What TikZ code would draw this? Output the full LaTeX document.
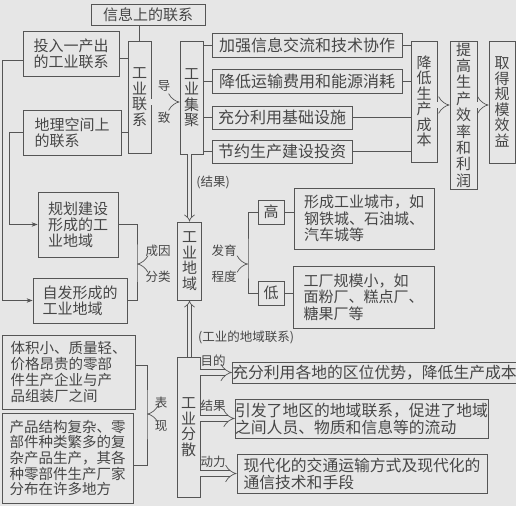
\documentclass[tikz,border=0pt]{standalone}
\usepackage{fontspec}
\newfontfamily\cjk{Noto Sans CJK SC}
\usetikzlibrary{arrows.meta}
\definecolor{bg}{RGB}{230,230,230}
\definecolor{ln}{RGB}{85,85,85}
\definecolor{tx}{RGB}{70,70,70}
\begin{document}
\begin{tikzpicture}[x=1pt,y=-1pt,
  every node/.style={text=tx, font=\cjk\fontsize{15}{16}\selectfont},
  box/.style={draw=ln, line width=0.8pt, inner sep=0pt, align=left},
  vbox/.style={draw=ln, line width=0.8pt, inner sep=0pt, align=center, font=\cjk\fontsize{15}{15.5}\selectfont},
  lab/.style={font=\cjk\fontsize{12.5}{13}\selectfont, inner sep=0pt},
  conn/.style={draw=ln, line width=0.8pt},
  arr/.style={conn, -{Stealth[length=6pt,width=4.5pt]}},
  dblh/.style={draw=ln, line width=0.7pt, double=bg, double distance=5.5pt, -{Implies[scale=1.4]}},
  dblv/.style={draw=ln, line width=0.7pt, double=bg, double distance=3pt, -{Implies[scale=1.4]}},
]
\fill[bg] (0,0) rectangle (516,506);
\useasboundingbox (0,0) rectangle (516,506);

% top row
\node[box, align=center, minimum width=114pt, minimum height=21pt] (info) at (148,14.5) {信息上的联系};
\node[box, minimum width=96pt, minimum height=45pt] (touru) at (71,53.5) {投入一产出\\的工业联系};
\node[box, minimum width=98pt, minimum height=45pt] (dili) at (72,132.5) {地理空间上\\的联系};
\node[vbox, minimum width=23pt, minimum height=112pt] (gylx) at (139.5,97) {工\\业\\联\\系};
\node[vbox, minimum width=23pt, minimum height=113pt] (gyjj) at (191.5,97.5) {工\\业\\集\\聚};

\node[box, align=center, minimum width=190pt, minimum height=24pt, font=\cjk\fontsize{16}{17}\selectfont] (jq) at (307,45) {加强信息交流和技术协作};
\node[box, align=center, minimum width=190pt, minimum height=24pt, font=\cjk\fontsize{16}{17}\selectfont] (jd) at (307,81) {降低运输费用和能源消耗};
\node[box, align=center, minimum width=140pt, minimum height=23pt, font=\cjk\fontsize{16}{17}\selectfont] (cf) at (282,117.5) {充分利用基础设施};
\node[box, align=center, minimum width=140pt, minimum height=23pt, font=\cjk\fontsize{16}{17}\selectfont] (jy) at (282,151.5) {节约生产建设投资};

\node[vbox, minimum width=26pt, minimum height=121pt] (jdcb) at (424,101.5) {降\\低\\生\\产\\成\\本};
\node[vbox, minimum width=27pt, minimum height=148pt, font=\cjk\fontsize{15}{16.4}\selectfont] (tg) at (463.5,115) {提\\高\\生\\产\\效\\率\\和\\利\\润};
\node[vbox, minimum width=26pt, minimum height=122pt] (qd) at (502,102) {取\\得\\规\\模\\效\\益};

% middle
\node[box, minimum width=80pt, minimum height=65pt] (gh) at (78,224.5) {规划建设\\形成的工\\业地域};
\node[box, minimum width=94pt, minimum height=45pt] (zf) at (80,300.5) {自发形成的\\工业地域};
\node[vbox, minimum width=24pt, minimum height=78pt] (gydy) at (189.5,261) {工\\业\\地\\域};
\node[box, align=center, minimum width=26pt, minimum height=24pt] (gao) at (271,212) {高};
\node[box, align=center, minimum width=26pt, minimum height=24pt] (di) at (271,293) {低};
\node[box, minimum width=140pt, minimum height=61pt, font=\cjk\fontsize{15}{16.5}\selectfont] (t1) at (364,218.5) {形成工业城市，如\\钢铁城、石油城、\\汽车城等};
\node[box, minimum width=141pt, minimum height=62pt, font=\cjk\fontsize{15}{16.5}\selectfont] (t2) at (363.5,297) {工厂规模小，如\\面粉厂、糕点厂、\\糖果厂等};

% bottom
\node[vbox, minimum width=23pt, minimum height=140pt] (gyfs) at (188.5,427) {工\\业\\分\\散};
\node[box, minimum width=133pt, minimum height=74pt, font=\cjk\fontsize{14.5}{15.7}\selectfont] (tj) at (68.5,372) {体积小、质量轻、\\价格昂贵的零部\\件生产企业与产\\品组装厂之间};
\node[box, minimum width=131pt, minimum height=90pt, font=\cjk\fontsize{14.5}{15.7}\selectfont] (cp) at (67.5,458) {产品结构复杂、零\\部件种类繁多的复\\杂产品生产，其各\\种零部件生产厂家\\分布在许多地方};
\node[box, align=center, minimum width=275pt, minimum height=21pt, font=\cjk\fontsize{15.8}{17}\selectfont] (r1) at (374.5,372.5) {充分利用各地的区位优势，降低生产成本};
\node[box, minimum width=249pt, minimum height=39pt, font=\cjk\fontsize{15.8}{17}\selectfont] (r2) at (361.5,418.5) {引发了地区的地域联系，促进了地域\\之间人员、物质和信息等的流动};
\node[box, minimum width=250pt, minimum height=39pt, font=\cjk\fontsize{15.8}{17}\selectfont] (r3) at (362,473.5) {现代化的交通运输方式及现代化的\\通信技术和手段};

% labels
\node[lab] (l1) at (164,86) {导};
\node[lab] (l2) at (164,118) {致};
\node[lab] (l3) at (213,182) {(结果)};
\node[lab] (l4) at (158,251) {成因};
\node[lab] (l5) at (158,277) {分类};
\node[lab] (l6) at (224,251) {发育};
\node[lab] (l7) at (224,277) {程度};
\node[lab] (l8) at (246,337) {(工业的地域联系)};
\node[lab] (l9) at (161,403) {表};
\node[lab] (l10) at (161,426) {现};
\node[lab] (l11) at (213,360.5) {目的};
\node[lab] (l12) at (213,405.5) {结果};
\node[lab] (l13) at (213,461.5) {动力};

% connectors top
\draw[conn] (gylx.north) -- (gylx.north |- info.south);
\draw[conn] ([yshift=-4.5pt]touru.east) -- ([yshift=-4.5pt]touru.east -| gylx.west);
\draw[conn] (dili.east) -- (dili.east -| gylx.west);
\draw[arr] ([yshift=-6.5pt]touru.west) -- ++(-20,0) |- (zf.west);
\draw[arr] (dili.west) -- ++(-13,0) |- (gh.west);
\draw[dblh] ([yshift=-5pt]gylx.east) -- ([yshift=-5pt]gylx.east -| gyjj.west);

\foreach \n in {jq,jd,cf,jy}{
  \draw[conn] (\n.west) -- (\n.west -| gyjj.east);
  \draw[conn] (\n.east) -- (\n.east -| jdcb.west);
}
\draw[dblh] ([yshift=-3.5pt]jdcb.east) -- ([yshift=-3.5pt]jdcb.east -| tg.west);
\draw[dblh] ([yshift=-3.5pt]jdcb.east -| tg.east) -- ([yshift=-3.5pt]jdcb.east -| qd.west);

% middle connectors
\draw[dblv] (gyjj.south -| gydy.north) -- (gydy.north);
\coordinate (bl) at (137,264);
\coordinate (br) at (248,264);
\draw[conn] (gh.east) -| (bl) |- (zf.east);
\draw[dblh] (gydy.west |- bl) -- (bl);
\draw[conn] (gao.west) -| (br) |- (di.west);
\draw[dblh] (gydy.east |- br) -- (br);
\draw[conn] (gao.east) -- (gao.east -| t1.west);
\draw[conn] (di.east) -- (di.east -| t2.west);

% bottom connectors
\draw[dblv] (gyfs.north -| gydy.south) -- (gydy.south);
\coordinate (bf) at (147,414);
\draw[conn] ([yshift=7pt]tj.east) -| (bf) |- ([yshift=-7pt]cp.east);
\draw[dblh] (gyfs.west |- bf) -- (bf);
\draw[dblh] (gyfs.east |- r1.west) -- (r1.west);
\draw[dblh] (gyfs.east |- r2.west) -- (r2.west);
\draw[dblh] (gyfs.east |- r3.west) -- (r3.west);
\end{tikzpicture}
\end{document}
